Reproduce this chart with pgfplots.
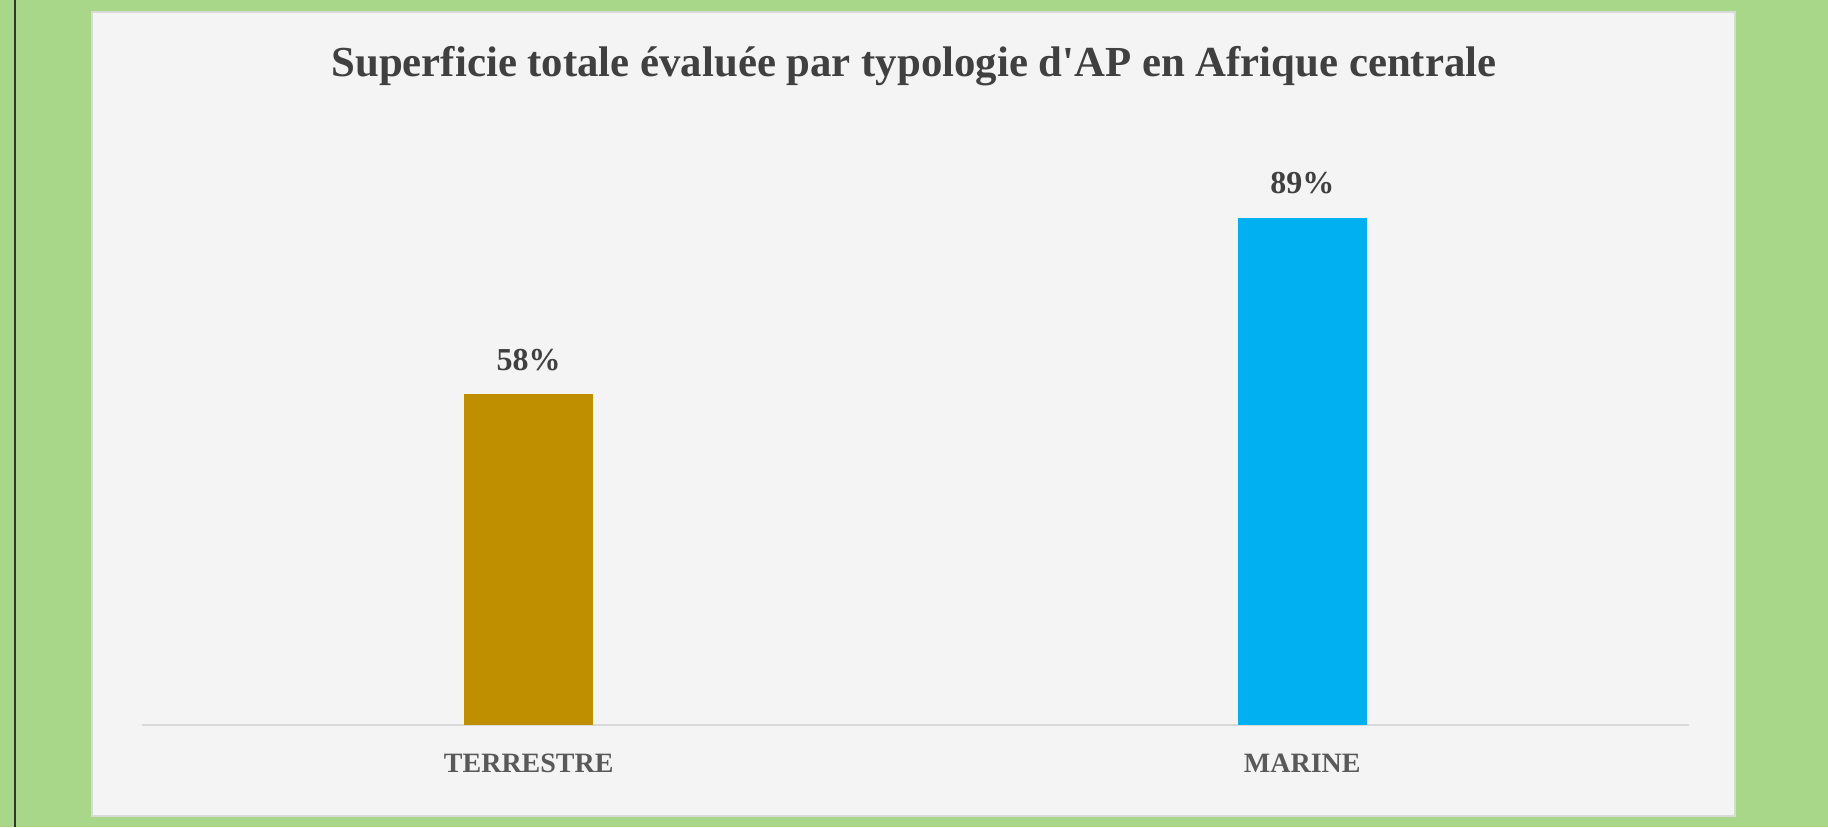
\documentclass[border=0pt]{standalone}
\usepackage{fontspec}
\setmainfont{Liberation Serif}
\usepackage{pgfplots}
\pgfplotsset{compat=1.18}
\definecolor{bggreen}{HTML}{A9D78A}
\definecolor{panel}{HTML}{F4F4F4}
\definecolor{panelborder}{HTML}{D9D9D9}
\definecolor{gold}{HTML}{BF8F00}
\definecolor{skyblue}{HTML}{00B0F0}
\definecolor{titlegray}{HTML}{404040}
\definecolor{labgray}{HTML}{595959}
\begin{document}
\begin{tikzpicture}
\fill[bggreen] (-71pt,-51pt) rectangle (843pt,362.5pt);
\useasboundingbox (-71pt,-51pt) rectangle (843pt,362.5pt);
\fill[black!80] (-63.75pt,-51pt) rectangle (-62.75pt,362.5pt);
\filldraw[fill=panel,draw=panelborder,line width=1pt] (-25pt,-45.5pt) rectangle (796.5pt,356.6pt);
\node[font=\fontsize{21.4}{25}\selectfont\bfseries,text=titlegray] at (386pt,329.5pt) {Superficie totale évaluée par typologie d\textquotesingle AP en Afrique centrale};
\begin{axis}[
  at={(0pt,0pt)}, anchor=south west,
  scale only axis, width=773.5pt, height=285pt,
  xmin=-0.5, xmax=1.5, ymin=0, ymax=100,
  axis x line*=bottom, axis y line=none,
  x axis line style={-,draw=panelborder,line width=0.8pt},
  xtick={0,1}, xticklabels={TERRESTRE,MARINE},
  major tick length=0pt,
  xticklabel style={font=\fontsize{14}{16}\selectfont\bfseries,text=labgray,anchor=base,yshift=-23.5pt,inner sep=0pt},
  ybar, bar width=64.5pt, bar shift=0pt,
  point meta=explicit symbolic,
  nodes near coords,
  every node near coord/.append style={font=\fontsize{16}{18}\selectfont\bfseries,text=titlegray,anchor=base,inner sep=0pt,yshift=12pt},
  clip=false,
]
\addplot[fill=gold,draw=none] coordinates {(0,58) [58\%]};
\addplot[fill=skyblue,draw=none] coordinates {(1,89) [89\%]};
\end{axis}
\end{tikzpicture}
\end{document}
